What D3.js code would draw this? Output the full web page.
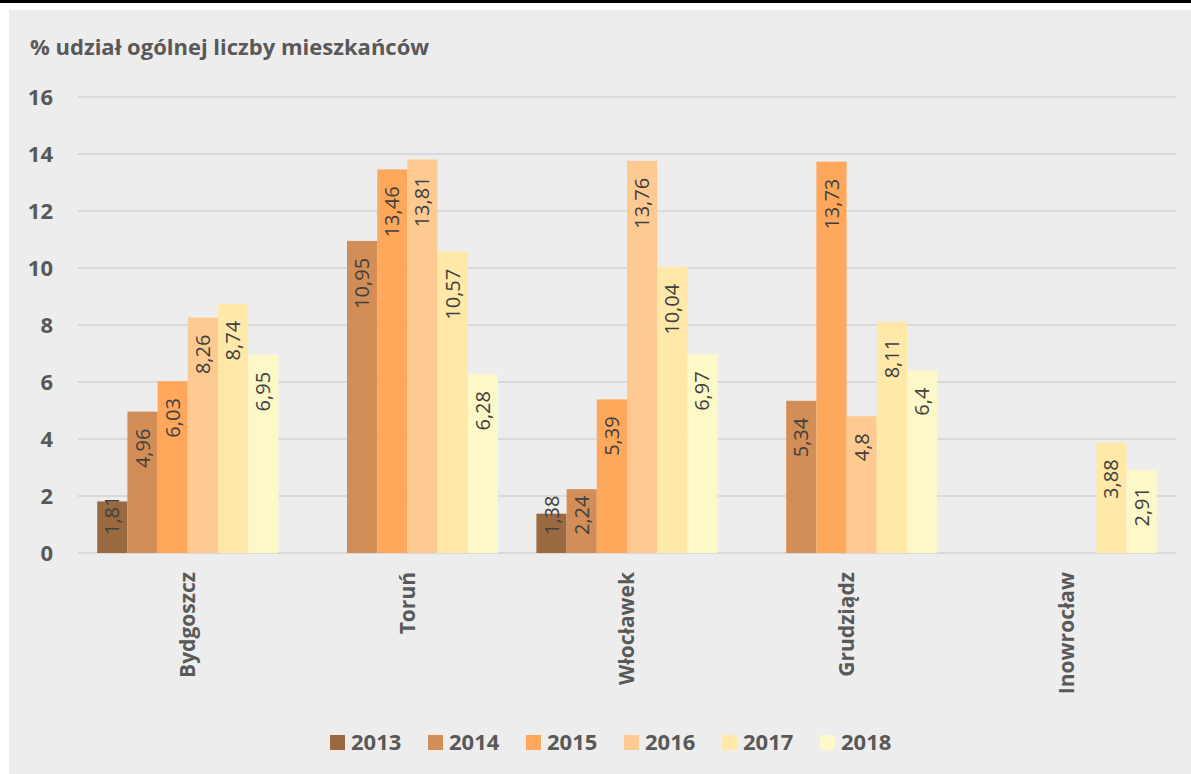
<!DOCTYPE html>
<html>
<head>
<meta charset="utf-8">
<script src="https://cdn.jsdelivr.net/npm/d3@7"></script>
<style>
    body { margin: 0; background: #fff; }
    text { font-family: "Open Sans", sans-serif; }
</style>
</head>
<body>
<div id="container"></div>
<script>
"use strict";

const WIDTH = 1191;
const HEIGHT = 774;

const CITIES = ["Bydgoszcz", "Toruń", "Włocławek", "Grudziądz", "Inowrocław"];
const YEARS = ["2013", "2014", "2015", "2016", "2017", "2018"];
const COLORS = ["#9B6940", "#D38E57", "#FFA85C", "#FFCA92", "#FFE8A8", "#FCF8C8"];

// one array per year, values in city order (null = no bar)
const V2013 = [1.81, null, 1.38, null, null];
const V2014 = [4.96, 10.95, 2.24, 5.34, null];
const V2015 = [6.03, 13.46, 5.39, 13.73, null];
const V2016 = [8.26, 13.81, 13.76, 4.8, null];
const V2017 = [8.74, 10.57, 10.04, 8.11, 3.88];
const V2018 = [6.95, 6.28, 6.97, 6.4, 2.91];
const SERIES = [V2013, V2014, V2015, V2016, V2017, V2018];

const Y_TICKS = [0, 2, 4, 6, 8, 10, 12, 14, 16];
const TITLE = "% udział ogólnej liczby mieszkańców";

const PLOT_LEFT = 78;
const PLOT_RIGHT = 1176;
const PLOT_TOP = 97;
const PLOT_BOTTOM = 553;

const SVG = d3.select("div#container").append("svg")
    .attr("width", WIDTH)
    .attr("height", HEIGHT);

SVG.append("rect").attr("x", 0).attr("y", 0).attr("width", WIDTH).attr("height", HEIGHT).attr("fill", "#fff");
SVG.append("rect").attr("x", 0).attr("y", 0).attr("width", WIDTH).attr("height", 3).attr("fill", "#000");
SVG.append("rect").attr("x", 9).attr("y", 10).attr("width", WIDTH - 9).attr("height", HEIGHT - 10).attr("fill", "#EDEDED");

const xScale = d3.scaleBand()
    .domain(CITIES)
    .range([PLOT_LEFT, PLOT_RIGHT])
    .paddingInner(0.175)
    .paddingOuter(0.0875);

const x1Scale = d3.scaleBand()
    .domain(YEARS)
    .range([0, xScale.bandwidth()]);

const yScale = d3.scaleLinear()
    .domain([0, 16])
    .range([PLOT_BOTTOM, PLOT_TOP]);

// title
SVG.append("text")
    .attr("x", 30)
    .attr("y", 55)
    .attr("fill", "#595959")
    .attr("font-size", 22)
    .attr("font-weight", "bold")
    .text(TITLE);

// gridlines
SVG.append("g")
    .selectAll("line")
    .data(Y_TICKS)
    .join("line")
    .attr("x1", PLOT_LEFT)
    .attr("x2", PLOT_RIGHT)
    .attr("y1", d => yScale(d))
    .attr("y2", d => yScale(d))
    .attr("stroke", "#D9D9D9")
    .attr("stroke-width", 2);

// y axis labels
const yaxis = d3.axisLeft(yScale).tickValues(Y_TICKS).tickSize(0).tickPadding(0);
const yG = SVG.append("g")
    .attr("transform", `translate(53, 0)`)
    .call(yaxis);
yG.select(".domain").remove();
yG.selectAll("text")
    .attr("fill", "#595959")
    .attr("font-size", 22)
    .attr("font-weight", "bold")
    .attr("font-family", "Open Sans, sans-serif");

// bars
const groups = SVG.append("g")
    .selectAll("g")
    .data(YEARS)
    .join("g")
    .attr("fill", (d, i) => COLORS[i]);

const barData = (yi) => CITIES.map((c, ci) => ({ city: c, year: YEARS[yi], value: SERIES[yi][ci] }))
    .filter(d => d.value !== null);

groups.selectAll("rect")
    .data((d, i) => barData(i))
    .join("rect")
    .attr("x", d => xScale(d.city) + x1Scale(d.year))
    .attr("y", d => yScale(d.value))
    .attr("width", x1Scale.bandwidth())
    .attr("height", d => yScale(0) - yScale(d.value));

// value labels (rotated, inside end)
const labels = SVG.append("g");
YEARS.forEach(function (y, yi) {
    barData(yi).forEach(function (d) {
        const cx = xScale(d.city) + x1Scale(d.year) + x1Scale.bandwidth() / 2;
        const t = labels.append("text")
            .attr("fill", "#404040")
            .attr("font-size", 20)
            .attr("text-anchor", "end")
            .attr("dy", "0.35em")
            .text(String(d.value).replace(".", ","));
        const len = t.node().getComputedTextLength();
        let top = yScale(d.value) + 17;
        if (top + len > PLOT_BOTTOM - 18) {
            top = PLOT_BOTTOM - 18 - len;
        }
        t.attr("transform", `translate(${cx}, ${top}) rotate(-90)`);
    });
});

// category labels
SVG.append("g")
    .selectAll("text")
    .data(CITIES)
    .join("text")
    .attr("transform", d => `translate(${xScale(d) + xScale.bandwidth() / 2}, 572) rotate(-90)`)
    .attr("text-anchor", "end")
    .attr("dy", "0.35em")
    .attr("fill", "#595959")
    .attr("font-size", 21)
    .attr("font-weight", "bold")
    .text(d => d);

// legend
const legend = SVG.append("g")
    .selectAll("g")
    .data(YEARS)
    .join("g")
    .attr("transform", (d, i) => `translate(${330 + i * 98}, 735)`);

legend.append("rect")
    .attr("width", 15)
    .attr("height", 15)
    .attr("fill", (d, i) => COLORS[i]);

legend.append("text")
    .attr("x", 21)
    .attr("y", 7.5)
    .attr("dy", "0.35em")
    .attr("fill", "#595959")
    .attr("font-size", 22)
    .attr("font-weight", "bold")
    .text(d => d);
</script>
</body>
</html>
